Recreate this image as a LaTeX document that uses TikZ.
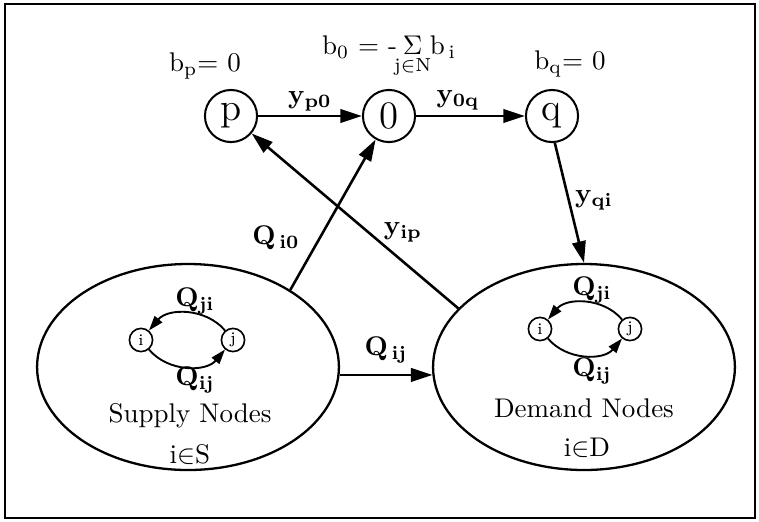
\documentclass[tikz,border=0pt]{standalone}
\usepackage{amsmath}
\usetikzlibrary{arrows.meta,shapes.geometric}
\begin{document}
\begin{tikzpicture}[x=0.37037pt,y=-0.37037pt,
  every node/.style={font=\normalsize},
  big/.style={draw, circle, line width=0.75pt, minimum size=19.3pt, inner sep=0pt, font=\Large},
  small/.style={draw, circle, line width=0.6pt, minimum size=8.6pt, inner sep=0pt, font=\fontsize{6}{7}\selectfont},
  region/.style={draw, ellipse, line width=0.85pt, minimum width=111.8pt, minimum height=76.3pt, inner sep=0pt},
  arr/.style={line width=0.95pt, -{Triangle[length=8pt,width=5pt]}},
  sarr/.style={line width=0.7pt, -{Triangle[length=5.5pt,width=3.6pt]}},
  lbl/.style={inner sep=1pt}
]
\useasboundingbox (0,0) rectangle (759,521);
\draw[line width=1.1pt] (5,4) rectangle (755,518);

% top nodes
\node[big] (p) at (231,116) {p};
\node[big] (z) at (389,116) {0};
\node[big] (q) at (552,116) {q};

% regions
\node[region] (S) at (188,367) {};
\node[region] (D) at (584,367) {};

% connectors
\draw[arr] (p) -- (z);
\draw[arr] (z) -- (q);
\draw[arr] (q.-84) -- (D.north);
\draw[arr] (S.37) -- (z);
\draw[arr] (D.155) -- (p);
\draw[arr] (S.-3) -- (D.183);

% labels top
\node[lbl] (bp) at (205,66) {b$_{\text{p}}$= 0};
\node[lbl] (b0) at (389,57) {b$_{0}$ = $\text{-}\mkern-5mu\mathop{\kern0pt\Sigma}\limits_{\text{j}\in\text{N}}\mkern-4mu\text{b}_{\,\text{i}}$};
\node[lbl] (bq) at (570,64) {b$_{\text{q}}$= 0};
\node[lbl] (lp0) at (310,101) {$\mathbf{y}_{\mathbf{p0}}$};
\node[lbl] (l0q) at (458,100) {$\mathbf{y}_{\mathbf{0q}}$};
\node[lbl] (lqi) at (594,200) {$\mathbf{y}_{\mathbf{qi}}$};
\node[lbl] (li0) at (276,238) {$\mathbf{Q}_{\,\mathbf{i0}}$};
\node[lbl] (lip) at (403,232) {$\mathbf{y}_{\mathbf{ip}}$};
\node[lbl] (lij) at (386,350) {$\mathbf{Q}_{\,\mathbf{ij}}$};

% supply inner
\node[small] (si) at (141,340) {i};
\node[small] (sj) at (233,340) {j};
\draw[sarr] (sj) to[bend right=50] (si);
\draw[sarr] (si) to[bend right=50] (sj);
\node[lbl] (sqji) at (195,301) {$\mathbf{Q}_{\mathbf{ji}}$};
\node[lbl] (sqij) at (195,380) {$\mathbf{Q}_{\mathbf{ij}}$};
\node[lbl] (st) at (190,416) {Supply Nodes};
\node[lbl] (se) at (190,454) {i$\in$S};

% demand inner
\node[small] (di) at (540,329) {i};
\node[small] (dj) at (630,329) {j};
\draw[sarr] (dj) to[bend right=50] (di);
\draw[sarr] (di) to[bend right=50] (dj);
\node[lbl] (dqji) at (592,290) {$\mathbf{Q}_{\mathbf{ji}}$};
\node[lbl] (dqij) at (592,371) {$\mathbf{Q}_{\mathbf{ij}}$};
\node[lbl] (dt) at (584,408) {Demand Nodes};
\node[lbl] (de) at (587,448) {i$\in$D};
\end{tikzpicture}
\end{document}
